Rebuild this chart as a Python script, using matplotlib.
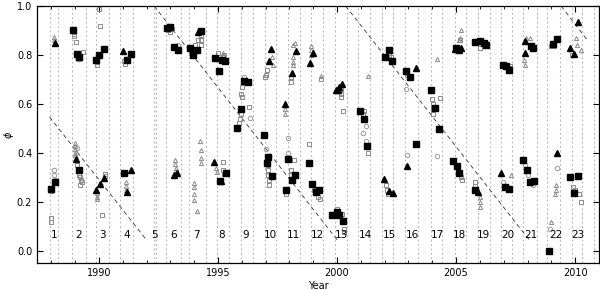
import numpy as np
import matplotlib
matplotlib.use("Agg")
import matplotlib.pyplot as plt
from matplotlib.ticker import MultipleLocator

# --- data (year, phase) ---
black_sq = [
    (1987.97, 0.254), (1988.14, 0.281),
    (1988.93, 0.901), (1989.07, 0.805), (1989.18, 0.792), (1989.18, 0.332),
    (1989.89, 0.781), (1990.00, 0.801), (1990.21, 0.826),
    (1991.17, 0.781), (1991.33, 0.804), (1991.04, 0.318),
    (1992.86, 0.911), (1993.00, 0.915), (1993.15, 0.831), (1993.32, 0.819),
    (1993.81, 0.829), (1993.95, 0.798), (1994.12, 0.822), (1994.30, 0.897),
    (1994.86, 0.788), (1995.03, 0.733), (1995.18, 0.781), (1995.28, 0.777),
    (1995.07, 0.286), (1995.32, 0.316),
    (1996.08, 0.692), (1996.26, 0.688), (1995.98, 0.580), (1995.81, 0.503),
    (1996.93, 0.473), (1997.10, 0.382), (1997.05, 0.360), (1997.27, 0.306),
    (1997.84, 0.250), (1997.94, 0.373), (1998.12, 0.291), (1998.22, 0.309),
    (1998.81, 0.357), (1998.96, 0.272), (1999.13, 0.240), (1999.24, 0.247),
    (1999.80, 0.145), (2000.00, 0.158), (2000.10, 0.145), (2000.25, 0.120),
    (2000.98, 0.573), (2001.13, 0.539), (2001.27, 0.428),
    (2002.00, 0.792), (2002.17, 0.819), (2002.32, 0.774),
    (2002.88, 0.736), (2003.05, 0.708), (2003.30, 0.436),
    (2003.96, 0.655), (2004.13, 0.585), (2004.28, 0.498),
    (2004.98, 0.830), (2004.87, 0.366), (2005.04, 0.347), (2005.12, 0.316),
    (2005.78, 0.852), (2006.00, 0.859), (2006.17, 0.849), (2006.25, 0.842),
    (2005.78, 0.247),
    (2006.97, 0.760), (2007.09, 0.753), (2007.21, 0.740), (2007.04, 0.261),
    (2007.22, 0.254),
    (2008.14, 0.835), (2008.24, 0.829), (2007.81, 0.370), (2007.98, 0.330),
    (2008.09, 0.281), (2008.26, 0.286),
    (2009.07, 0.846), (2009.22, 0.866), (2008.91, 0.000),
    (2009.77, 0.300), (2010.12, 0.305), (2009.94, 0.236),
]

black_tri = [
    (1988.14, 0.849), (1989.05, 0.373),
    (1989.86, 0.247), (1990.03, 0.272), (1990.20, 0.298),
    (1991.00, 0.815), (1991.19, 0.240), (1991.36, 0.329),
    (1993.15, 0.309), (1993.27, 0.316), (1994.15, 0.895),
    (1994.82, 0.364), (1995.14, 0.286),
    (1997.21, 0.826), (1997.13, 0.777),
    (1997.80, 0.599), (1998.12, 0.726), (1998.26, 0.815),
    (1998.85, 0.767), (1998.99, 0.808),
    (1999.95, 0.655), (2000.04, 0.658), (2000.21, 0.682), (2000.10, 0.668),
    (2001.97, 0.295), (2002.18, 0.245), (2002.35, 0.236),
    (2003.33, 0.747), (2002.94, 0.346),
    (2004.94, 0.825), (2005.12, 0.819), (2005.19, 0.829),
    (2005.92, 0.241), (2006.90, 0.316),
    (2007.88, 0.808), (2007.90, 0.856), (2009.22, 0.400),
    (2010.12, 0.934), (2009.80, 0.829), (2009.94, 0.805),
]

grey_sq = [
    (1988.00, 0.135), (1988.00, 0.116), (1987.98, 0.245),
    (1988.95, 0.887), (1988.97, 0.877), (1989.02, 0.852), (1989.33, 0.811),
    (1989.10, 0.350), (1989.15, 0.310), (1989.20, 0.300), (1989.25, 0.290),
    (1989.28, 0.280), (1989.22, 0.270),
    (1989.90, 0.770), (1989.92, 0.760), (1990.03, 0.917), (1990.00, 0.986),
    (1990.25, 0.315), (1990.27, 0.305), (1990.12, 0.148),
    (1991.05, 0.775), (1991.08, 0.765),
    (1992.90, 0.900), (1993.00, 0.895), (1993.05, 0.905), (1993.85, 0.810),
    (1993.90, 0.800), (1994.05, 0.840), (1994.15, 0.860),
    (1994.30, 0.880), (1994.30, 0.860), (1994.30, 0.840),
    (1995.00, 0.810), (1995.20, 0.790), (1995.25, 0.800),
    (1995.20, 0.361), (1995.22, 0.330), (1995.25, 0.315),
    (1996.00, 0.668), (1995.98, 0.640), (1996.00, 0.630), (1995.95, 0.560),
    (1995.93, 0.540), (1995.90, 0.520), (1996.30, 0.589),
    (1997.08, 0.350), (1997.10, 0.330), (1997.12, 0.310), (1997.15, 0.290),
    (1997.15, 0.270), (1997.05, 0.740), (1997.00, 0.720), (1996.98, 0.710),
    (1997.84, 0.230),
    (1998.05, 0.710), (1998.05, 0.690), (1998.08, 0.330), (1998.05, 0.310),
    (1998.20, 0.370),
    (1998.84, 0.436), (1999.05, 0.250), (1999.18, 0.220), (1999.28, 0.210),
    (1999.34, 0.700), (2000.15, 0.660), (2000.15, 0.640), (2000.15, 0.630),
    (2000.25, 0.569), (2000.00, 0.170), (2000.20, 0.150), (2000.28, 0.090),
    (2000.28, 0.075),
    (2001.10, 0.560), (2001.10, 0.540), (2001.15, 0.570), (2001.28, 0.400),
    (2002.20, 0.800), (2002.25, 0.790), (2002.05, 0.270), (2002.10, 0.250),
    (2002.12, 0.230),
    (2002.95, 0.720),
    (2004.00, 0.620), (2004.03, 0.600), (2004.03, 0.580), (2004.03, 0.560),
    (2004.32, 0.624),
    (2005.20, 0.300), (2005.25, 0.290), (2005.18, 0.860),
    (2006.00, 0.830), (2006.25, 0.840), (2005.78, 0.280), (2005.78, 0.265),
    (2007.25, 0.755), (2007.25, 0.745),
    (2008.98, 0.835), (2009.12, 0.835),
    (2009.85, 0.800), (2009.90, 0.260), (2010.00, 0.250), (2010.15, 0.230),
    (2010.25, 0.200),
]

grey_tri = [
    (1988.10, 0.875), (1988.10, 0.860),
    (1988.98, 0.440), (1988.98, 0.430), (1988.98, 0.415), (1988.98, 0.400),
    (1988.98, 0.390),
    (1989.90, 0.235), (1989.90, 0.220), (1989.92, 0.210),
    (1991.12, 0.280), (1991.12, 0.265), (1991.15, 0.250),
    (1993.20, 0.370), (1993.20, 0.355), (1993.22, 0.340), (1993.22, 0.325),
    (1993.98, 0.275), (1993.98, 0.260), (1994.00, 0.230), (1994.00, 0.206),
    (1994.10, 0.161), (1994.25, 0.450), (1994.28, 0.410), (1994.28, 0.380),
    (1994.30, 0.360),
    (1995.20, 0.810), (1995.22, 0.800), (1994.90, 0.340), (1994.95, 0.320),
    (1997.25, 0.790), (1997.30, 0.760),
    (1997.83, 0.580), (1997.83, 0.560), (1998.15, 0.840), (1998.22, 0.850),
    (1998.13, 0.790), (1998.13, 0.770), (1998.15, 0.760),
    (1998.90, 0.835), (1998.92, 0.820), (1998.92, 0.800),
    (1999.34, 0.715), (2001.30, 0.715),
    (2004.20, 0.784),
    (2005.10, 0.860), (2005.15, 0.870), (2005.22, 0.900),
    (2006.00, 0.220), (2006.02, 0.200), (2006.02, 0.180),
    (2007.30, 0.310),
    (2007.95, 0.870), (2008.10, 0.870), (2007.85, 0.780), (2007.90, 0.760),
    (2009.18, 0.270), (2009.18, 0.250), (2009.15, 0.230), (2009.00, 0.117),
    (2010.05, 0.870), (2010.08, 0.840), (2010.25, 0.820),
]

grey_circ = [
    (1988.10, 0.330), (1988.12, 0.310), (1988.15, 0.290),
    (1989.12, 0.785), (1989.20, 0.782), (1989.10, 0.420),
    (1993.30, 0.840),
    (1996.10, 0.710), (1996.36, 0.541),
    (1997.00, 0.416), (1997.95, 0.460), (1997.93, 0.400),
    (2001.20, 0.510), (2001.08, 0.480), (2001.20, 0.450),
    (2002.90, 0.660), (2002.94, 0.390), (2004.19, 0.387),
    (2006.98, 0.280),
    (2007.88, 0.350), (2008.02, 0.310), (2008.24, 0.270),
    (2009.25, 0.340), (2008.93, 0.090),
]

# observing season boundaries (dotted lines)
season_edges = [1987.93, 1988.27, 1988.88, 1989.44, 1989.88, 1990.42, 1990.90,
                1991.43, 1992.30, 1992.41, 1992.83, 1993.46, 1993.78, 1994.48,
                1994.95, 1995.47, 1995.96, 1996.47, 1996.96, 1997.44, 1997.95,
                1998.44, 1998.90, 1999.42, 1999.90, 2000.40, 2000.90, 2001.38,
                2001.88, 2002.37, 2002.86, 2003.42, 2003.96, 2004.41, 2004.94,
                2005.43, 2005.90, 2006.41, 2006.90, 2007.35, 2007.81, 2008.38,
                2008.80, 2009.36, 2009.85, 2010.28, 2010.80]

season_labels = [str(i) for i in range(1, 24)]
season_x = [1988.14, 1989.16, 1990.17, 1991.15, 1992.34, 1993.15, 1994.09,
            1995.17, 1996.15, 1997.21, 1998.15, 1999.16, 2000.18, 2001.19,
            2002.21, 2003.16, 2004.21, 2005.15, 2006.13, 2007.15, 2008.12,
            2009.19, 2010.10]

# dashed drift lines: (t_start, phi_start, t_end, phi_end)
drift_lines = [
    (1987.93, 0.546, 1991.99, 0.045),
    (1992.32, 1.000, 2000.00, 0.045),
    (2000.36, 1.000, 2008.09, 0.042),
    (2009.41, 1.000, 2010.50, 0.862),
]

fig = plt.figure(figsize=(6.0, 2.9), dpi=100)
ax = fig.add_axes([37 / 600, 27 / 290, 562 / 600, 257 / 290])

for t in season_edges:
    ax.axvline(t, color="#b0b0b0", ls=(0, (1.5, 2.5)), lw=0.8, zorder=0)

for t0, p0, t1, p1 in drift_lines:
    ax.plot([t0, t1], [p0, p1], color="#333333", lw=0.6, ls=(0, (5, 4)), zorder=1)

def xy(pts):
    a = np.array(pts)
    return a[:, 0], a[:, 1]

x, y = xy(grey_circ)
ax.plot(x, y, "o", ms=3.2, mfc="none", mec="#9a9a9a", mew=0.7, zorder=2)
x, y = xy(grey_sq)
ax.plot(x, y, "s", ms=2.8, mfc="none", mec="#8a8a8a", mew=0.7, zorder=2)
x, y = xy(grey_tri)
ax.plot(x, y, "^", ms=3.0, mfc="none", mec="#8a8a8a", mew=0.7, zorder=2)
x, y = xy(black_sq)
ax.plot(x, y, "s", ms=4.8, color="black", mec="black", zorder=3)
x, y = xy(black_tri)
ax.plot(x, y, "^", ms=5.0, color="black", mec="black", zorder=3)

for lab, t in zip(season_labels, season_x):
    ax.text(t, 0.065, lab, ha="center", va="center", fontsize=7.5)

ax.set_xlim(1987.4, 2011.0)
ax.set_ylim(-0.05, 1.0)
ax.xaxis.set_major_locator(MultipleLocator(5))
ax.xaxis.set_minor_locator(MultipleLocator(1))
ax.yaxis.set_major_locator(MultipleLocator(0.2))
ax.tick_params(which="both", direction="in", top=True, right=True, labelsize=7)
ax.tick_params(which="major", length=4, width=0.8)
ax.tick_params(which="minor", length=2, width=0.6)
ax.set_xlabel("Year", fontsize=7, labelpad=2)
ax.set_ylabel(r"$\phi$", fontsize=7, va="center")
ax.yaxis.set_label_coords(-0.05, 0.5)
for s in ax.spines.values():
    s.set_linewidth(0.9)

fig.savefig("out.png", dpi=100)
